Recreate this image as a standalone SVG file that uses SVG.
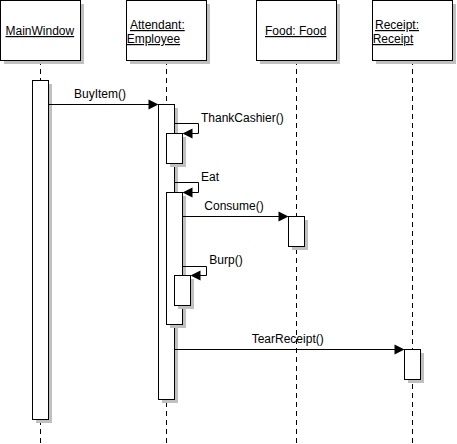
<svg xmlns="http://www.w3.org/2000/svg" width="457" height="444" viewBox="0 0 457 444">
<style>
.bg{fill:#ffffff}
.box{fill:#ffffff;stroke:#000000;stroke-width:1}
.sh{fill:#c0c0c0;stroke:none}
.life{stroke:#000000;stroke-width:1;stroke-dasharray:5 4;fill:none}
.msg{stroke:#000000;stroke-width:1;fill:none}
.head{fill:#000000;stroke:none}
.t{font-family:"Liberation Sans",Arial,sans-serif;font-size:12px;fill:#000000}
.u{text-decoration:underline}
</style>
<rect class="bg" x="0" y="0" width="457" height="444"/>
<g id="lifelines">
<line class="life" x1="40.5" y1="60" x2="40.5" y2="444"/>
<line class="life" x1="166.5" y1="60" x2="166.5" y2="444"/>
<line class="life" x1="296.5" y1="60" x2="296.5" y2="444"/>
<line class="life" x1="412.5" y1="60" x2="412.5" y2="444"/>
</g>
<g id="MainWindow">
<rect class="sh" x="4" y="4" width="80" height="60"/>
<rect class="box" x="0.5" y="0.5" width="80" height="60"/>
<text class="t u" x="5.5" y="35">MainWindow</text>
</g>
<g id="Attendant">
<rect class="sh" x="130" y="4" width="80" height="60"/>
<rect class="box" x="126.5" y="0.5" width="80" height="60"/>
<text class="t u" x="130" y="29">Attendant:</text>
<text class="t u" x="126.7" y="43">Employee</text>
</g>
<g id="Food">
<rect class="sh" x="260" y="4" width="80" height="60"/>
<rect class="box" x="256.5" y="0.5" width="80" height="60"/>
<text class="t u" x="265" y="35">Food: Food</text>
</g>
<g id="Receipt">
<rect class="sh" x="376" y="4" width="80" height="60"/>
<rect class="box" x="372.5" y="0.5" width="80" height="60"/>
<text class="t u" x="375" y="29">Receipt:</text>
<text class="t u" x="372.7" y="43">Receipt</text>
</g>
<g id="activations">
<rect class="sh" x="36" y="84" width="16" height="339"/>
<rect class="box" x="32.5" y="80.5" width="16" height="339"/>
<rect class="sh" x="162" y="108" width="16" height="295"/>
<rect class="box" x="158.5" y="104.5" width="16" height="295"/>
<rect class="sh" x="170" y="137" width="16" height="30"/>
<rect class="box" x="166.5" y="133.5" width="16" height="30"/>
<rect class="sh" x="170" y="196" width="16" height="132"/>
<rect class="box" x="166.5" y="192.5" width="16" height="132"/>
<rect class="sh" x="178" y="279" width="16" height="30"/>
<rect class="box" x="174.5" y="275.5" width="16" height="30"/>
<rect class="sh" x="292" y="220" width="16" height="30"/>
<rect class="box" x="288.5" y="216.5" width="16" height="30"/>
<rect class="sh" x="408" y="353" width="16" height="30"/>
<rect class="box" x="404.5" y="349.5" width="16" height="30"/>
</g>
<g id="connectors">
<line class="msg" x1="48.5" y1="104.5" x2="150" y2="104.5"/>
<polygon class="head" points="158.5,104.5 148.5,99.5 148.5,109.5"/>
<text class="t" x="74" y="97.5">BuyItem()</text>
<polyline class="msg" points="174.5,123.5 198.5,123.5 198.5,133.5 190,133.5"/>
<polygon class="head" points="182.5,133.5 192.5,128.5 192.5,138.5"/>
<text class="t" x="201" y="122">ThankCashier()</text>
<polyline class="msg" points="174.5,182.5 198.5,182.5 198.5,192.5 190,192.5"/>
<polygon class="head" points="182.5,192.5 192.5,187.5 192.5,197.5"/>
<text class="t" x="201" y="181">Eat</text>
<line class="msg" x1="182.5" y1="216.5" x2="280" y2="216.5"/>
<polygon class="head" points="288.5,216.5 278.5,211.5 278.5,221.5"/>
<text class="t" x="204.3" y="210">Consume()</text>
<polyline class="msg" points="182.5,266.5 206.5,266.5 206.5,275.5 198,275.5"/>
<polygon class="head" points="190.5,275.5 200.5,270.5 200.5,280.5"/>
<text class="t" x="209.3" y="264">Burp()</text>
<line class="msg" x1="174.5" y1="349.5" x2="396" y2="349.5"/>
<polygon class="head" points="404.5,349.5 394.5,344.5 394.5,354.5"/>
<text class="t" x="251.7" y="343.3">TearReceipt()</text>
</g>
</svg>
